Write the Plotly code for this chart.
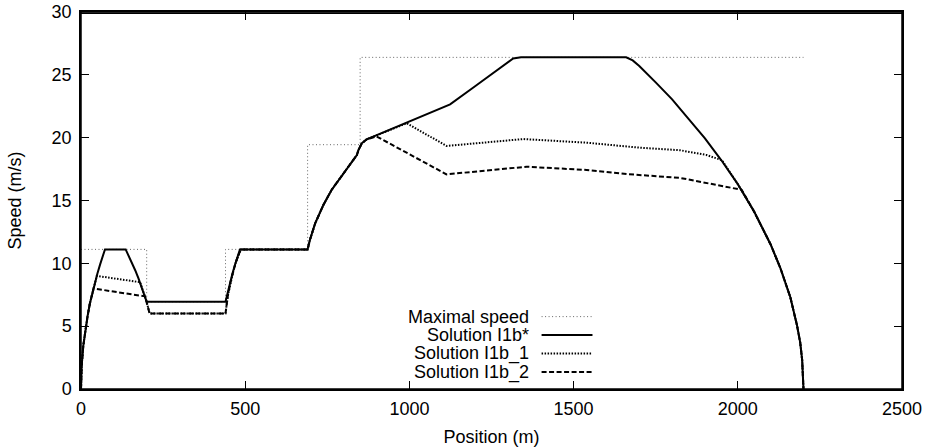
import plotly.graph_objects as go

# ---------------- data ----------------
max_x = [0, 200, 200, 440, 440, 690, 690, 850, 850, 2200]
max_v = [11.11, 11.11, 6.94, 6.94, 11.11, 11.11, 19.44, 19.44, 26.39, 26.39]

star_x = [0, 2, 7, 12, 20, 27, 35, 43, 50, 58, 65, 73, 136, 145, 155, 165, 175, 185, 193, 200,
          440, 447, 454, 461, 469, 476, 484, 690, 697, 713, 738, 763, 789, 814, 840, 845, 855,
          870, 900, 992, 1103, 1124, 1200, 1316, 1340, 1660, 1680, 1700, 1750, 1800, 1850, 1900,
          1950, 2000, 2050, 2100, 2130, 2160, 2180, 2190, 2196, 2200]
star_v = [0, 1.84, 3.45, 4.5, 5.8, 6.8, 7.7, 8.55, 9.2, 9.9, 10.5, 11.11, 11.11, 10.62, 10.05, 9.45,
          8.8, 8.11, 7.51, 6.94, 6.94, 7.76, 8.49, 9.17, 9.89, 10.48, 11.11, 11.11, 11.86, 13.18,
          14.64, 15.84, 16.77, 17.69, 18.62, 19.02, 19.55, 19.87, 20.2, 21.2, 22.46, 22.65, 24.09,
          26.3, 26.39, 26.39, 26.15, 25.7, 24.4, 23.05, 21.5, 19.95, 18.2, 16.3, 14.1, 11.5, 9.6,
          7.3, 5.1, 3.7, 2.3, 0]

sol1_x = [0, 2, 7, 12, 20, 27, 35, 43, 48, 180, 185, 193, 200, 209, 440, 447, 455, 463, 471, 479,
          487, 690, 697, 713, 738, 763, 789, 814, 840, 845, 855, 870, 900, 992, 1113, 1347, 1540,
          1702, 1824, 1905, 1952, 2000, 2050, 2100, 2130, 2160, 2180, 2190, 2196, 2200]
sol1_v = [0, 1.84, 3.45, 4.5, 5.8, 6.8, 7.7, 8.55, 9.0, 8.5, 8.11, 7.51, 6.94, 6.0, 6.0, 7.4, 8.5,
          9.3, 10.05, 10.65, 11.11, 11.11, 11.86, 13.18, 14.64, 15.84, 16.77, 17.69, 18.62, 19.02,
          19.55, 19.87, 20.2, 21.15, 19.34, 19.89, 19.6, 19.2, 19.0, 18.62, 18.2, 16.3, 14.1, 11.5,
          9.6, 7.3, 5.1, 3.7, 2.3, 0]

sol2_x = [0, 2, 7, 12, 20, 27, 38, 195, 200, 209, 440, 447, 455, 463, 471, 479, 487, 690, 697,
          713, 738, 763, 789, 814, 840, 845, 855, 870, 900, 1113, 1357, 1540, 1662, 1824, 1905,
          2012, 2050, 2100, 2130, 2160, 2180, 2190, 2196, 2200]
sol2_v = [0, 1.84, 3.45, 4.5, 5.8, 6.8, 8.0, 7.37, 6.94, 6.0, 6.0, 7.4, 8.5, 9.3, 10.05, 10.65,
          11.11, 11.11, 11.86, 13.18, 14.64, 15.84, 16.77, 17.69, 18.62, 19.02, 19.55, 19.87,
          20.1, 17.08, 17.69, 17.43, 17.1, 16.8, 16.4, 15.85, 14.1, 11.5, 9.6, 7.3, 5.1, 3.7, 2.3, 0]

legend_labels = ["Maximal speed", "Solution I1b*", "Solution I1b_1", "Solution I1b_2"]

x_ticks = [0, 500, 1000, 1500, 2000, 2500]
y_ticks = [0, 5, 10, 15, 20, 25, 30]

# ---------------- styles ----------------
styles = [
    dict(color="#666666", width=1, dash="1px,2.5px"),
    dict(color="black", width=2, dash="solid"),
    dict(color="black", width=2, dash="1.5px,1.5px"),
    dict(color="black", width=2, dash="5px,2.5px"),
]
FONT = "Liberation Sans, Arial, Helvetica, sans-serif"
FS = 18

fig = go.Figure()
for (xs, vs), name, st in zip([(max_x, max_v), (star_x, star_v), (sol1_x, sol1_v), (sol2_x, sol2_v)],
                              legend_labels, styles):
    fig.add_trace(go.Scatter(x=xs, y=vs, mode="lines", name=name, line=st,
                             showlegend=False, hoverinfo="skip"))

# gnuplot-style key: text right-aligned, sample line to its right
row_y = [0.192, 0.143, 0.094, 0.045]
for lab, st, yy in zip(legend_labels, styles, row_y):
    fig.add_annotation(x=0.547, y=yy, xref="paper", yref="paper", text=lab, showarrow=False,
                       xanchor="right", yanchor="middle", borderpad=0,
                       font=dict(family=FONT, size=FS, color="black"))
    fig.add_shape(type="line", xref="paper", yref="paper", x0=0.561, x1=0.623, y0=yy, y1=yy,
                  line=st)

# plot frame (gnuplot border), top edge drawn a hair inside the plot area
fig.add_shape(type="rect", xref="paper", yref="paper", x0=0, x1=1, y0=0, y1=1,
              line=dict(color="black", width=1.5), fillcolor="rgba(0,0,0,0)", layer="above")
fig.add_shape(type="line", xref="paper", yref="paper", x0=0, x1=1, y0=0.997, y1=0.997,
              line=dict(color="black", width=1.5), layer="above")

axis_common = dict(showline=True, linecolor="black", linewidth=1.5, mirror="ticks",
                   ticks="inside", ticklen=8, tickcolor="black", tickwidth=1,
                   showgrid=False, zeroline=False, automargin=False,
                   ticklabeloverflow="allow",
                   tickfont=dict(family=FONT, size=FS, color="black"))

fig.update_xaxes(range=[0, 2500], tickvals=x_ticks, ticklabelstandoff=3,
                 title=dict(text="Position (m)", font=dict(family=FONT, size=FS, color="black"),
                            standoff=12),
                 **axis_common)
fig.update_yaxes(range=[0, 30], tickvals=y_ticks, ticklabelstandoff=4,
                 title=dict(text="Speed (m/s)", font=dict(family=FONT, size=FS, color="black"),
                            standoff=25),
                 **axis_common)

fig.update_layout(width=927, height=448, margin=dict(l=81, r=25, t=12, b=59, autoexpand=False),
                  paper_bgcolor="white", plot_bgcolor="white",
                  font=dict(family=FONT, size=FS, color="black"))

# remove the default page margin so the figure sits at the window's top-left corner
fig.write_html("out.html", config={"displayModeBar": False},
               post_script="document.body.style.margin='0';document.body.style.overflow='hidden';")
